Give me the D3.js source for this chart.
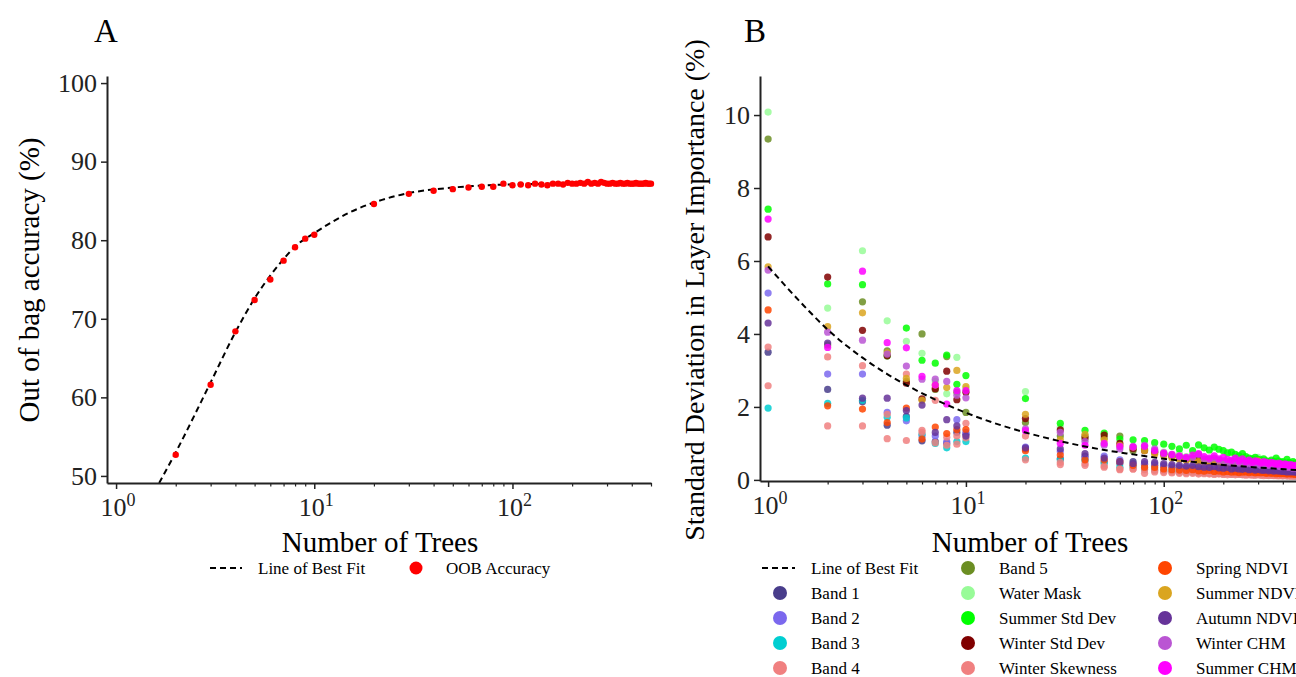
<!DOCTYPE html>
<html>
<head>
<meta charset="utf-8">
<script src="https://cdn.jsdelivr.net/npm/d3@7"></script>
<style>
  body { margin: 0; background: #fff; }
  svg { display: block; font-family: "Liberation Serif", "DejaVu Serif", serif; }
  .axis path, .axis line { stroke: #222; }
</style>
</head>
<body>
<svg width="1296" height="677"></svg>
<script>
const svg = d3.select('svg');

// ---- panel A data ----
const treesA = [2,3,4,5,6,7,8,9,10,20,30,40,50,60,70,80,
  90,100,110,120,130,140,150,160,170,180,190,200,210,220,230,240,250,260,270,280,
  290,300,310,320,330,340,350,360,370,380,390,400,410,420,430,440,450,460,470,480,490,500];
const oobAccuracy = [52.7,61.6,68.4,72.4,75.0,77.4,79.1,80.2,80.7,84.6,85.9,86.3,86.5,86.7,86.8,86.8,
  87.2,87.0,87.1,87.0,87.2,87.1,87.0,87.2,87.2,87.1,87.3,87.2,87.2,87.3,87.2,87.4,87.2,87.3,87.2,87.4,
  87.3,87.2,87.2,87.3,87.2,87.2,87.3,87.2,87.2,87.3,87.2,87.2,87.2,87.3,87.2,87.2,87.2,87.2,87.3,87.2,87.2,87.2];
// fitted curve
const fitA = [[1.65,49.1],[2,53.0],[3,61.9],[4,68.3],[5,72.6],[6,75.5],[7,77.6],[8,79.2],[10,80.9],
  [15,83.5],[20,84.8],[30,86.0],[50,86.7],[100,87.1],[200,87.2],[500,87.25]];

// ---- panel B data ----
const treesB = [1,2,3,4,5,6,7,8,9,10,20,30,40,50,60,70,80,
  90,100,110,120,130,140,150,160,170,180,190,200,210,220,230,240,250,260,270,280,
  290,300,310,320,330,340,350,360,370,380,390,400,410,420,430,440,450,460,470,480,490,500];

const layerNames = ['Band 1','Band 2','Band 3','Band 4','Band 5','Water Mask','Summer Std Dev',
  'Winter Std Dev','Winter Skewness','Spring NDVI','Summer NDVI','Autumn NDVI','Winter CHM','Summer CHM'];
const layerColors = ['#483d8b','#7b68ee','#00ced1','#f08080','#6b8e23','#98fb98','#00ff00',
  '#800000','#f08080','#ff4500','#daa520','#663399','#ba55d3','#ff00ff'];

const band1 = [3.50,2.48,2.14,1.50,1.74,1.07,1.05,1.00,1.30,1.25,0.85,0.58,0.65,0.50,0.45,0.50,0.42,
  0.40,0.38,0.35,0.33,0.32,0.34,0.30,0.29,0.31,0.28,0.29,0.27,0.28,0.26,0.27,0.25,0.26,0.24,0.25,0.24,
  0.23,0.25,0.22,0.23,0.22,0.21,0.22,0.20,0.21,0.20,0.21,0.19,0.20,0.19,0.20,0.18,0.19,0.18,0.19,0.17,0.18,0.17];
const band2 = [5.12,2.90,2.90,1.85,1.62,1.20,1.20,1.05,1.65,1.30,0.90,0.78,0.60,0.65,0.55,0.40,0.45,
  0.44,0.40,0.38,0.36,0.34,0.35,0.32,0.31,0.33,0.30,0.30,0.29,0.28,0.29,0.27,0.26,0.27,0.25,0.26,0.25,
  0.24,0.26,0.23,0.24,0.23,0.22,0.23,0.21,0.22,0.21,0.21,0.20,0.21,0.20,0.20,0.19,0.20,0.19,0.19,0.18,0.19,0.18];
const band3 = [1.97,2.10,2.18,1.72,1.70,1.25,1.00,0.88,1.05,1.05,0.60,0.55,0.53,0.45,0.35,0.35,0.30,
  0.28,0.25,0.24,0.22,0.21,0.22,0.20,0.19,0.20,0.18,0.18,0.17,0.18,0.16,0.17,0.16,0.15,0.16,0.15,0.16,
  0.14,0.15,0.14,0.15,0.14,0.13,0.14,0.13,0.14,0.13,0.13,0.12,0.13,0.12,0.13,0.12,0.12,0.11,0.12,0.11,0.12,0.11];
const band4 = [3.64,3.37,3.13,1.80,2.90,1.36,2.18,1.17,1.20,1.55,1.20,0.48,0.45,0.35,0.30,0.30,0.28,
  0.26,0.24,0.22,0.21,0.20,0.22,0.19,0.20,0.18,0.19,0.18,0.17,0.18,0.17,0.16,0.17,0.16,0.15,0.16,0.15,
  0.15,0.16,0.14,0.15,0.14,0.15,0.14,0.13,0.14,0.13,0.14,0.13,0.13,0.12,0.13,0.12,0.13,0.12,0.12,0.11,0.12,0.11];
const band5 = [9.34,3.70,4.88,3.54,2.70,4.00,2.48,3.38,2.40,1.85,1.57,1.20,1.20,1.15,1.20,0.80,0.85,
  0.78,0.72,0.66,0.62,0.58,0.60,0.56,0.54,0.52,0.56,0.50,0.48,0.46,0.50,0.44,0.42,0.46,0.40,0.42,0.40,
  0.38,0.56,0.40,0.36,0.38,0.36,0.34,0.50,0.36,0.34,0.32,0.34,0.32,0.30,0.34,0.30,0.28,0.32,0.30,0.28,0.30,0.28];
const waterMask = [10.08,4.71,6.28,4.36,3.80,3.47,2.70,2.36,3.36,2.50,2.42,1.45,1.10,1.00,0.90,0.85,0.85,
  0.80,0.76,0.70,0.72,0.64,0.60,0.66,0.56,0.54,0.58,0.52,0.50,0.48,0.46,0.50,0.44,0.46,0.42,0.44,0.40,
  0.42,0.62,0.40,0.38,0.42,0.36,0.38,0.40,0.34,0.36,0.34,0.36,0.32,0.34,0.32,0.30,0.34,0.30,0.32,0.28,0.30,0.28];
const summerStd = [7.42,5.37,5.35,3.40,4.16,3.28,3.20,3.42,2.62,2.86,2.23,1.55,1.36,1.28,1.12,1.10,1.08,
  1.02,0.98,0.92,0.85,0.95,0.80,0.96,0.88,0.82,0.90,0.84,0.80,0.74,0.76,0.70,0.66,0.72,0.64,0.60,0.58,
  0.62,0.56,0.54,0.58,0.52,0.50,0.54,0.50,0.60,0.52,0.48,0.50,0.46,0.56,0.48,0.44,0.50,0.46,0.42,0.48,0.44,0.42];
const winterStd = [6.66,5.56,4.10,3.40,2.65,2.22,2.50,2.98,2.20,2.40,1.68,1.37,1.15,1.23,1.00,0.85,0.80,
  0.75,0.70,0.64,0.60,0.56,0.58,0.54,0.52,0.50,0.52,0.48,0.46,0.44,0.46,0.42,0.40,0.44,0.38,0.40,0.38,
  0.36,0.48,0.36,0.34,0.36,0.34,0.32,0.34,0.32,0.30,0.32,0.30,0.28,0.30,0.28,0.27,0.28,0.26,0.27,0.25,0.26,0.25];
const winterSkew = [2.58,1.48,1.48,1.13,1.08,1.30,1.02,0.95,0.98,1.15,0.55,0.42,0.40,0.38,0.28,0.30,0.18,
  0.22,0.20,0.19,0.18,0.17,0.18,0.16,0.17,0.16,0.15,0.16,0.15,0.14,0.15,0.14,0.15,0.14,0.13,0.14,0.13,
  0.13,0.14,0.13,0.12,0.13,0.12,0.13,0.12,0.12,0.11,0.12,0.11,0.12,0.11,0.11,0.10,0.11,0.10,0.11,0.10,0.10,0.10];
const springNdvi = [4.66,2.03,1.94,1.57,1.97,1.12,1.45,1.27,1.38,1.38,0.80,0.68,0.55,0.55,0.50,0.40,0.35,
  0.34,0.30,0.28,0.27,0.26,0.28,0.25,0.24,0.26,0.23,0.24,0.22,0.23,0.21,0.22,0.20,0.21,0.22,0.20,0.21,
  0.19,0.20,0.19,0.20,0.18,0.19,0.18,0.19,0.17,0.18,0.17,0.18,0.17,0.16,0.17,0.16,0.17,0.15,0.16,0.15,0.16,0.15];
const summerNdvi = [5.84,4.20,4.58,3.48,2.78,2.18,2.60,2.53,3.00,2.56,1.80,1.10,1.25,1.10,0.95,0.90,0.80,
  0.70,0.66,0.60,0.56,0.54,0.56,0.50,0.48,0.52,0.46,0.44,0.48,0.42,0.40,0.44,0.38,0.40,0.38,0.36,0.38,
  0.34,0.52,0.34,0.32,0.34,0.30,0.32,0.30,0.28,0.30,0.28,0.30,0.27,0.28,0.26,0.27,0.25,0.26,0.24,0.25,0.24,0.23];
const autumnNdvi = [4.30,3.75,2.24,2.24,1.90,2.05,1.30,1.65,1.48,1.20,0.88,0.85,0.72,0.60,0.50,0.45,0.50,
  0.48,0.45,0.42,0.40,0.38,0.40,0.36,0.35,0.34,0.36,0.33,0.32,0.34,0.30,0.32,0.30,0.29,0.31,0.28,0.30,
  0.27,0.29,0.27,0.26,0.28,0.25,0.27,0.24,0.26,0.24,0.25,0.23,0.24,0.22,0.24,0.22,0.23,0.21,0.22,0.21,0.22,0.20];
const winterChm = [5.75,4.05,3.83,3.45,3.12,2.76,2.76,2.70,2.32,2.25,1.40,1.30,1.05,0.95,0.85,0.92,0.95,
  0.85,0.72,0.68,0.64,0.60,0.62,0.70,0.58,0.56,0.60,0.54,0.52,0.50,0.48,0.52,0.46,0.50,0.44,0.46,0.42,
  0.46,0.44,0.40,0.44,0.42,0.40,0.42,0.38,0.40,0.38,0.36,0.38,0.36,0.34,0.36,0.34,0.32,0.34,0.32,0.30,0.32,0.30];
const summerChm = [7.15,3.63,5.72,3.76,3.62,2.84,2.60,2.08,2.45,2.45,1.35,1.00,0.95,1.00,0.92,0.90,0.92,
  0.80,0.74,0.70,0.66,0.62,0.68,0.72,0.64,0.60,0.66,0.58,0.62,0.56,0.54,0.60,0.52,0.58,0.50,0.54,0.48,
  0.52,0.50,0.46,0.50,0.48,0.44,0.48,0.46,0.42,0.46,0.44,0.40,0.44,0.42,0.40,0.42,0.38,0.40,0.38,0.36,0.38,0.36];

const layerValues = [band1, band2, band3, band4, band5, waterMask, summerStd,
  winterStd, winterSkew, springNdvi, summerNdvi, autumnNdvi, winterChm, summerChm];

// fitted curve
const fitB = [[1,5.85],[1.5,4.8],[2,4.12],[3,3.35],[4,2.9],[5,2.6],[7,2.2],[10,1.84],[15,1.5],
  [20,1.3],[30,1.06],[50,0.82],[70,0.7],[100,0.58],[150,0.48],[200,0.41],[300,0.34],[500,0.26]];

const ticksA = [50,60,70,80,90,100];
const ticksB = [0,2,4,6,8,10];
const majorX = [1,10,100];
const minorX = [2,3,4,5,6,7,8,9,20,30,40,50,60,70,80,90,200,300,400,500];

// ---- helpers ----
const drawXAxis = (g, x, y0) => {
  g.append('g').attr('class', 'axis')
    .attr('transform', `translate(0,${y0})`)
    .call(d3.axisBottom(x).tickValues(minorX).tickSize(3.5).tickFormat('').tickSizeOuter(0))
    .call(s => s.select('.domain').remove())
    .selectAll('line').attr('stroke-width', 1.2);
  const ax = g.append('g').attr('class', 'axis')
    .attr('transform', `translate(0,${y0})`)
    .call(d3.axisBottom(x).tickValues(majorX).tickSize(6).tickFormat('').tickSizeOuter(0));
  ax.select('.domain').attr('stroke-width', 2);
  ax.selectAll('line').attr('stroke-width', 1.5);
  const lab = g.selectAll(null).data(majorX).enter().append('text')
    .attr('x', d => x(d) + 2).attr('y', y0 + 33)
    .attr('text-anchor', 'middle')
    .attr('font-size', 26).attr('fill', '#222');
  lab.append('tspan').text('10');
  lab.append('tspan').attr('dy', -10).attr('font-size', 18).text(d => Math.round(Math.log10(d)));
};

const drawYAxis = (g, y, x0, ticks) => {
  const ax = g.append('g').attr('class', 'axis')
    .attr('transform', `translate(${x0},0)`)
    .call(d3.axisLeft(y).tickValues(ticks).tickSize(6).tickSizeOuter(0).tickPadding(4));
  ax.select('.domain').attr('stroke-width', 2);
  ax.selectAll('line').attr('stroke-width', 1.5);
  ax.selectAll('text').attr('font-size', 26).attr('fill', '#222')
    .attr('font-family', '"Liberation Serif", serif');
};

// ---- panel A ----
const gA = svg.append('g');
const xA = d3.scaleLog().domain([0.9, 500]).range([107, 651]);
const yA = d3.scaleLinear().domain([49.1, 100.9]).range([483, 76]);

gA.append('path')
  .datum(fitA)
  .attr('fill', 'none').attr('stroke', '#000').attr('stroke-width', 2)
  .attr('stroke-dasharray', '6,4')
  .attr('d', d3.line().x(d => xA(d[0])).y(d => yA(d[1])).curve(d3.curveMonotoneX));

gA.selectAll('circle.oob').data(treesA).enter().append('circle')
  .attr('class', 'oob')
  .attr('cx', d => xA(d))
  .attr('cy', (d, i) => yA(oobAccuracy[i]))
  .attr('r', 3.2).attr('fill', '#ff0000');

drawXAxis(gA, xA, 483);
drawYAxis(gA, yA, 107, ticksA);

gA.append('text').attr('x', 94).attr('y', 42).attr('font-size', 33).text('A');
gA.append('text').attr('x', 380).attr('y', 552).attr('text-anchor', 'middle')
  .attr('font-size', 29).text('Number of Trees');
gA.append('text').attr('transform', 'translate(39,280) rotate(-90)')
  .attr('text-anchor', 'middle').attr('font-size', 29).text('Out of bag accuracy (%)');

// legend A
gA.append('line').attr('x1', 210).attr('x2', 242).attr('y1', 568).attr('y2', 568)
  .attr('stroke', '#000').attr('stroke-width', 2).attr('stroke-dasharray', '6,4');
gA.append('text').attr('x', 258).attr('y', 574).attr('font-size', 17).text('Line of Best Fit');
gA.append('circle').attr('cx', 416).attr('cy', 568).attr('r', 6.5).attr('fill', '#ff0000');
gA.append('text').attr('x', 446).attr('y', 574).attr('font-size', 17).text('OOB Accuracy');

// ---- panel B ----
const gB = svg.append('g');
const xB = d3.scaleLog().domain([0.91, 500]).range([760, 1302]);
const yB = d3.scaleLinear().domain([-0.03, 11.07]).range([481, 76]);

layerValues.forEach((vals, k) => {
  gB.append('g').selectAll('circle').data(treesB).enter().append('circle')
    .attr('cx', d => xB(d))
    .attr('cy', (d, i) => yB(vals[i]))
    .attr('r', 3.6)
    .attr('fill', layerColors[k])
    .attr('fill-opacity', 0.85);
});

gB.append('path')
  .datum(fitB)
  .attr('fill', 'none').attr('stroke', '#000').attr('stroke-width', 2)
  .attr('stroke-dasharray', '6,4')
  .attr('d', d3.line().x(d => xB(d[0])).y(d => yB(d[1])).curve(d3.curveMonotoneX));

drawXAxis(gB, xB, 481);
drawYAxis(gB, yB, 760, ticksB);

gB.append('text').attr('x', 744).attr('y', 42).attr('font-size', 33).text('B');
gB.append('text').attr('x', 1030).attr('y', 552).attr('text-anchor', 'middle')
  .attr('font-size', 29).text('Number of Trees');
gB.append('text').attr('transform', 'translate(704,290) rotate(-90)')
  .attr('text-anchor', 'middle').attr('font-size', 28).text('Standard Deviation in Layer Importance (%)');

// legend B
const legCols = [780, 968, 1165];
const legItems = [{name: 'Line of Best Fit', line: true}]
  .concat(layerNames.map((n, k) => ({name: n, color: layerColors[k]})));
legItems.forEach((d, i) => {
  const col = Math.floor(i / 5), row = i % 5;
  const cx = legCols[col], cy = 568 + row * 25;
  if (d.line) {
    gB.append('line').attr('x1', cx - 18).attr('x2', cx + 15).attr('y1', cy).attr('y2', cy)
      .attr('stroke', '#000').attr('stroke-width', 2).attr('stroke-dasharray', '6,4');
  } else {
    gB.append('circle').attr('cx', cx).attr('cy', cy).attr('r', 7).attr('fill', d.color);
  }
  gB.append('text').attr('x', cx + 31).attr('y', cy + 6).attr('font-size', 17).text(d.name);
});
</script>
</body>
</html>
